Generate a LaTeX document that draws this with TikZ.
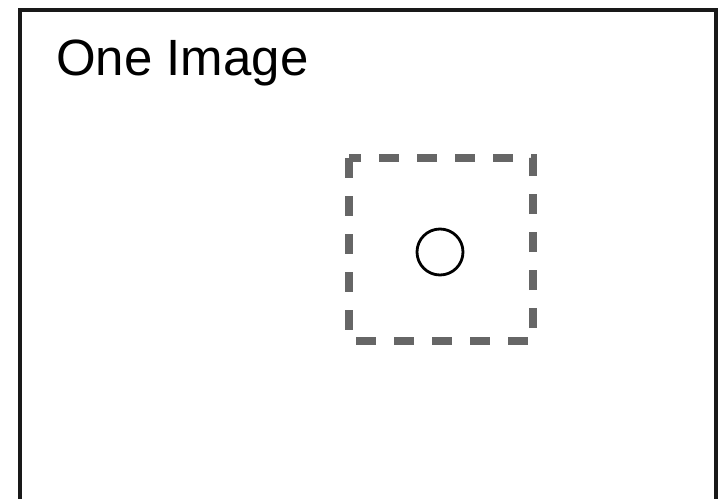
\documentclass[tikz,border=0pt]{standalone}
\usepackage{fontspec}
\setmainfont{Liberation Sans}
\begin{document}
\begin{tikzpicture}[x=1pt,y=1pt,
  frame/.style={draw=black!90,line width=3.5pt},
  roi/.style={draw=black!60,line width=8pt,dash pattern=on 20pt off 18pt},
  target/.style={circle,draw=black,line width=2.8pt,minimum size=46pt,inner sep=0pt},
  title/.style={anchor=base west,inner sep=0pt,font=\fontsize{51}{60}\selectfont}]
\useasboundingbox (0,0) rectangle (720,-498);
\draw[frame] (20,-10) rectangle (716,-520);
\node[title] (label) at (56,-75) {One Image};
\draw[roi] (349,-158) rectangle (533,-341);
\node[target] (dot) at (440,-252) {};
\end{tikzpicture}
\end{document}
